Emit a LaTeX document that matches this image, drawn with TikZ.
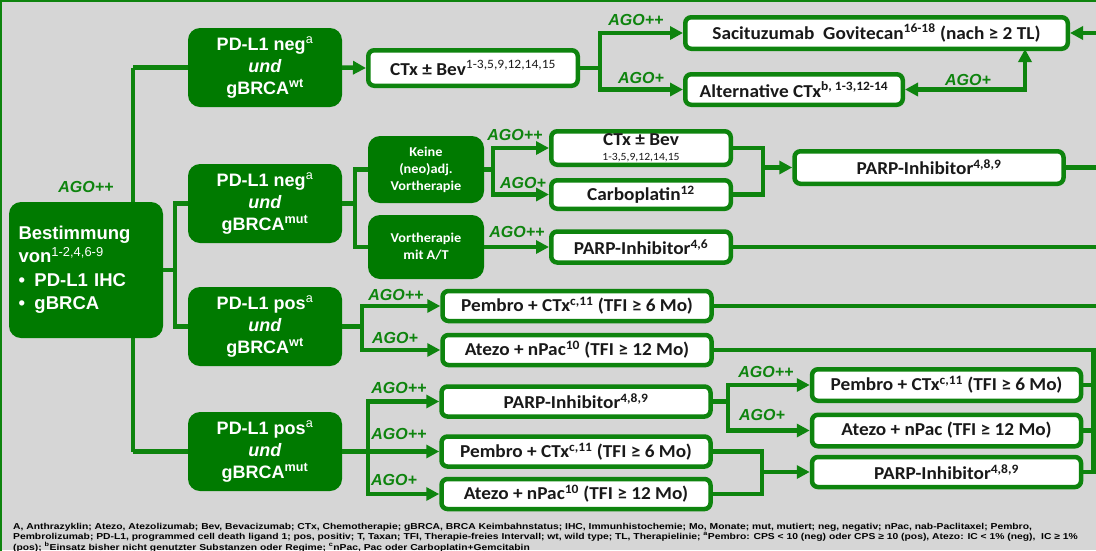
\documentclass[tikz,border=0pt]{standalone}
\usepackage{fontspec}
\setmainfont{Liberation Sans}
\newfontfamily\calibri{Carlito}[FakeStretch=1.06]
\newfontfamily\legendfont{Liberation Sans}[FakeStretch=1.2]
\usetikzlibrary{arrows.meta}
\definecolor{agogreen}{RGB}{0,122,0}
\definecolor{linegreen}{RGB}{14,132,14}
\definecolor{bggrey}{RGB}{214,214,214}

\begin{document}
\begin{tikzpicture}
[x=1pt,y=-1pt,%%%%%%%%%%%%%%%%%%%%%%%%%%%%%%
cat/.style={rectangle,rounded corners=12pt,fill=agogreen,text=white,align=center,inner sep=0pt,minimum width=154pt,minimum height=79pt,font=\fontsize{18}{22}\selectfont\bfseries},
pre/.style={rectangle,rounded corners=12pt,fill=agogreen,text=white,align=center,inner sep=0pt,minimum width=116pt,font=\calibri\fontsize{13.5}{17}\selectfont\bfseries},
res/.style={rectangle,rounded corners=6pt,draw=linegreen,line width=4.5pt,fill=white,text=black!90,align=center,inner sep=0pt,font=\calibri\fontsize{18.2}{19}\selectfont\bfseries},
wide/.style={res,minimum width=269pt,minimum height=30pt},
short/.style={res,minimum width=179.5pt,minimum height=31pt},
ago/.style={text=linegreen,inner sep=0pt,font=\fontsize{16}{16}\selectfont\bfseries\itshape},
con/.style={draw=linegreen,line width=4.5pt},
arr/.style={con,-{Triangle[length=13pt,width=13pt]}},
]%%%%%%%%%%%%%%%%%%%%%%%%%%%%%%

\useasboundingbox (0,0) rectangle (1096,550);
\fill[bggrey] (0,0) rectangle (1096,550);
\draw[linegreen,line width=2.5pt] (1.2,560) -- (1.2,1.2) -- (1110,1.2);

% trunk behind the start box
\coordinate (tr1) at (133,67.5);
\coordinate (tr4) at (133,451.5);
\draw[con] (tr1) -- (tr4);

\node[cat,minimum height=136pt,text width=135pt,align=left,font=\fontsize{18.5}{23.5}\selectfont\bfseries] (best) at (86,270)
{Bestimmung\\von\textsuperscript{\mdseries 1-2,4,6-9}\\\makebox[16pt][l]{•}PD-L1 IHC\\\makebox[16pt][l]{•}gBRCA};
\node[ago] (agobest) at (86,187) {AGO++};

\node[cat] (negwt) at (265,67.5) {PD-L1 neg\textsuperscript{\mdseries a}\\\textit{und}\\gBRCA\textsuperscript{wt}};
\node[cat] (negmut) at (265,203.5) {PD-L1 neg\textsuperscript{\mdseries a}\\\textit{und}\\gBRCA\textsuperscript{mut}};
\node[cat] (poswt) at (265,326.5) {PD-L1 pos\textsuperscript{\mdseries a}\\\textit{und}\\gBRCA\textsuperscript{wt}};
\node[cat] (posmut) at (265,451.5) {PD-L1 pos\textsuperscript{\mdseries a}\\\textit{und}\\gBRCA\textsuperscript{mut}};

% PD-L1 neg, gBRCA wt
\node[res,minimum width=209.5pt,minimum height=35.5pt] (ctxa) at (473,68) {CTx ± Bev\textsuperscript{\mdseries 1-3,5,9,12,14,15}};
\node[res,minimum width=382.5pt,minimum height=31.5pt] (saci) at (876.5,33) {Sacituzumab~~Govitecan\textsuperscript{16-18} (nach ≥ 2 TL)};
\node[res,minimum width=217.5pt,minimum height=30.5pt] (alt) at (794,89.5) {Alternative CTx\textsuperscript{b, 1-3,12-14}};
\node[ago] (ago1) at (636,19.5) {AGO++};
\node[ago] (ago2) at (641,78) {AGO+};
\node[ago] (ago3) at (968,80) {AGO+};

% PD-L1 neg, gBRCA mut
\node[pre,minimum height=67pt] (keine) at (426,169.5) {Keine\\(neo)adj.\\Vortherapie};
\node[pre,minimum height=64pt] (vorth) at (426,247) {Vortherapie\\mit A/T};
\node[short,minimum height=33.5pt] (ctxb) at (641,148) {CTx ± Bev\\[-4pt]{\fontsize{11}{12}\selectfont\mdseries 1-3,5,9,12,14,15}};
\node[short,minimum height=28.5pt] (carbo) at (641,194.5) {Carboplatin\textsuperscript{12}};
\node[short] (parpb) at (641,247) {PARP-Inhibitor\textsuperscript{4,6}};
\node[wide,minimum height=32.5pt] (parpa) at (929,167.5) {PARP-Inhibitor\textsuperscript{4,8,9}};
\node[ago] (ago4) at (515,135) {AGO++};
\node[ago] (ago5) at (523,183) {AGO+};
\node[ago] (ago6) at (517,232) {AGO++};

% PD-L1 pos, gBRCA wt
\node[wide] (pema) at (577,306) {Pembro + CTx\textsuperscript{c,11} (TFI ≥ 6 Mo)};
\node[wide] (atza) at (577,350) {Atezo + nPac\textsuperscript{10} (TFI ≥ 12 Mo)};
\node[ago] (ago7) at (396,295) {AGO++};
\node[ago] (ago8) at (395,338) {AGO+};

% PD-L1 pos, gBRCA mut
\node[wide] (parpc) at (576,401.5) {PARP-Inhibitor\textsuperscript{4,8,9}};
\node[wide] (pemb) at (576,451.5) {Pembro + CTx\textsuperscript{c,11} (TFI ≥ 6 Mo)};
\node[wide] (atzb) at (576,494) {Atezo + nPac\textsuperscript{10} (TFI ≥ 12 Mo)};
\node[wide,minimum height=31.5pt] (pemc) at (946.5,385) {Pembro + CTx\textsuperscript{c,11} (TFI ≥ 6 Mo)};
\node[wide,minimum height=31.5pt] (atzc) at (946.5,430.5) {Atezo + nPac (TFI ≥ 12 Mo)};
\node[wide] (parpd) at (946.5,472) {PARP-Inhibitor\textsuperscript{4,8,9}};
\node[ago] (ago9) at (399,388) {AGO++};
\node[ago] (ago10) at (399,434) {AGO++};
\node[ago] (ago11) at (394,480) {AGO+};
\node[ago] (ago12) at (766,372) {AGO++};
\node[ago] (ago13) at (762,415) {AGO+};

\node[anchor=north west,align=left,inner sep=0pt,font=\legendfont\fontsize{8.6}{10.3}\selectfont\bfseries] (legend) at (13,523)
{A, Anthrazyklin; Atezo, Atezolizumab; Bev, Bevacizumab; CTx, Chemotherapie; gBRCA, BRCA Keimbahnstatus; IHC, Immunhistochemie; Mo, Monate; mut, mutiert; neg, negativ; nPac, nab-Paclitaxel; Pembro,\\
Pembrolizumab; PD-L1, programmed cell death ligand 1; pos, positiv; T, Taxan; TFI, Therapie-freies Intervall; wt, wild type; TL, Therapielinie; \textsuperscript{a}Pembro: CPS < 10 (neg) oder CPS ≥ 10 (pos), Atezo: IC < 1\% (neg),~~IC ≥ 1\%\\
(pos); \textsuperscript{b}Einsatz bisher nicht genutzter Substanzen oder Regime; \textsuperscript{c}nPac, Pac oder Carboplatin+Gemcitabin};

% connectors
\coordinate (sp0) at (175,270);
\draw[con] (best.east) -- (sp0);
\draw[con] (negmut.west) -- (negmut.west -| sp0) |- (poswt.west);
\draw[con] (tr1) -- (negwt.west);
\draw[con] (tr4) -- (posmut.west);

\coordinate (sp1) at (600,68);
\draw[arr] (negwt.east) -- (ctxa.west);
\draw[con] (ctxa.east) -- (sp1);
\draw[arr] (sp1) |- (saci.west);
\draw[arr] (sp1) |- (alt.west);
\coordinate (rin) at (1100,33);
\draw[arr] (rin) -- (saci.east);
\coordinate (sacib) at (1025,49);
\draw[con,{Triangle[length=13pt,width=13pt]}-{Triangle[length=13pt,width=13pt]}] (alt.east) -| (sacib);

\coordinate (sp2) at (355,203.5);
\draw[con] (negmut.east) -- (sp2);
\draw[con] (keine.west) -- (keine.west -| sp2) |- (vorth.west);
\coordinate (sp3) at (493,169.5);
\draw[con] (keine.east) -- (sp3);
\draw[arr] (sp3) |- (ctxb.west);
\draw[arr] (sp3) |- (carbo.west);
\coordinate (mg1) at (763,167.5);
\draw[con] (ctxb.east) -| (mg1);
\draw[con] (carbo.east) -| (mg1);
\draw[arr] (mg1) -- (parpa.west);
\coordinate (ra) at (1100,167.5);
\draw[con] (parpa.east) -- (ra);
\draw[arr] (vorth.east) -- (parpb.west);
\coordinate (rb) at (1100,247);
\draw[con] (parpb.east) -- (rb);

\coordinate (sp4) at (362,326.5);
\draw[con] (poswt.east) -- (sp4);
\draw[arr] (sp4) |- (pema.west);
\draw[arr] (sp4) |- (atza.west);
\coordinate (rc) at (1100,306);
\draw[con] (pema.east) -- (rc);
\coordinate (rd) at (1100,350);
\draw[con] (atza.east) -- (rd);
\coordinate (coll) at (1093.5,350);
\draw[con] (coll) |- (parpd.east);
\draw[con] (pemc.east) -- (pemc.east -| coll);
\draw[con] (atzc.east) -- (atzc.east -| coll);

\coordinate (sp5) at (368,451.5);
\draw[con] (posmut.east) -- (sp5);
\draw[arr] (sp5) |- (parpc.west);
\draw[arr] (sp5) -- (pemb.west);
\draw[arr] (sp5) |- (atzb.west);
\coordinate (sp6) at (728,401.5);
\draw[con] (parpc.east) -- (sp6);
\draw[arr] (sp6) |- (pemc.west);
\draw[arr] (sp6) |- (atzc.west);
\coordinate (mg2) at (762,472);
\draw[con] (pemb.east) -| (mg2);
\draw[con] (atzb.east) -| (mg2);
\draw[arr] (mg2) -- (parpd.west);
\end{tikzpicture}
\end{document}
